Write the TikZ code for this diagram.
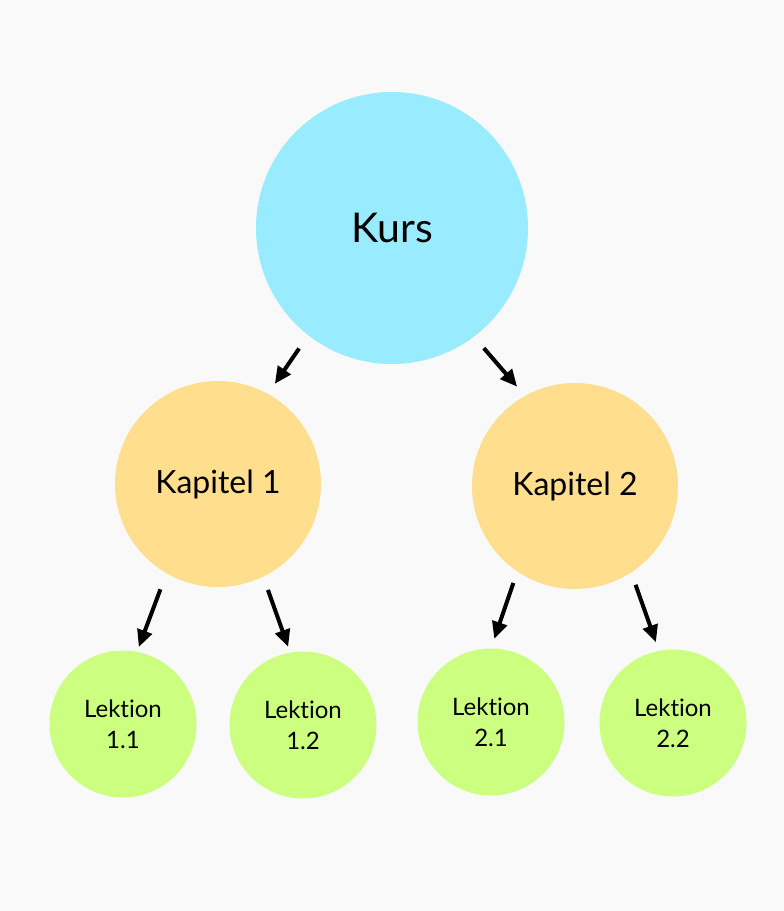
\documentclass[tikz,border=0pt]{standalone}
\usepackage{fontspec}
\setmainfont[Ligatures=NoCommon]{Lato}
\usetikzlibrary{arrows.meta}
\definecolor{bg}{RGB}{249,249,249}
\definecolor{kurs}{RGB}{153,236,255}
\definecolor{kap}{RGB}{255,223,142}
\definecolor{lek}{RGB}{204,255,128}
\tikzset{
  kursnode/.style={circle,fill=kurs,minimum size=272pt,inner sep=0pt,font=\fontsize{41pt}{48pt}\selectfont},
  kapnode/.style={circle,fill=kap,minimum size=206pt,inner sep=0pt,font=\fontsize{32pt}{38pt}\selectfont},
  leknode/.style={circle,fill=lek,minimum size=147pt,inner sep=0pt,align=center,font=\fontsize{24pt}{31pt}\selectfont},
  conn/.style={line width=4pt,-{Triangle[length=17pt,width=15pt]}}
}
\begin{document}
\begin{tikzpicture}[x=1pt,y=-1pt]
\fill[bg] (0,0) rectangle (784,911);
\useasboundingbox (0,0) rectangle (784,911);
\node[kursnode] (kurs) at (392,228) {Kurs};
\node[kapnode] (k1) at (218,484) {Kapitel 1};
\node[kapnode] (k2) at (575,486) {Kapitel 2};
\node[leknode] (l11) at (123,724) {Lektion\\1.1};
\node[leknode] (l12) at (303,725) {Lektion\\1.2};
\node[leknode] (l21) at (491,722) {Lektion\\2.1};
\node[leknode] (l22) at (673,723) {Lektion\\2.2};
\draw[conn,shorten <=16pt,shorten >=12pt] (kurs.232) -- (k1.61);
\draw[conn,shorten <=15pt,shorten >=12pt] (kurs.307) -- (k2.119);
\draw[conn,shorten <=17pt,shorten >=5pt] (k1.240) -- (l11.79);
\draw[conn,shorten <=14pt,shorten >=6pt] (k1.296) -- (l12.100);
\draw[conn,shorten <=12pt,shorten >=10pt] (k2.236) -- (l21.90);
\draw[conn,shorten <=13pt,shorten >=9pt] (k2.303) -- (l22.101);
\end{tikzpicture}
\end{document}
